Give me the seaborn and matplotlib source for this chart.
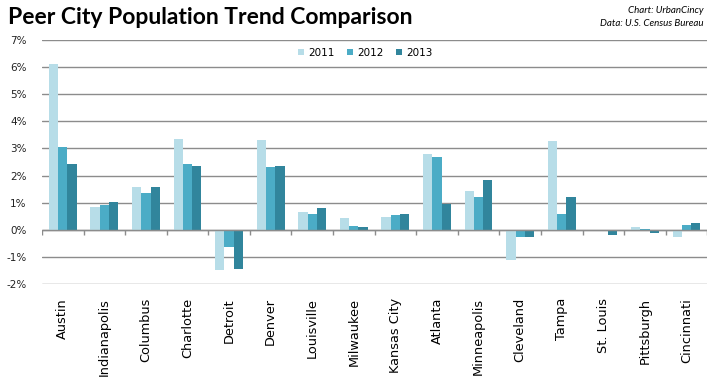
import pandas as pd
import matplotlib.pyplot as plt
import seaborn as sns
import numpy as np

# Dados (variação populacional anual, %)
cities = ['Austin', 'Indianapolis', 'Columbus', 'Charlotte', 'Detroit', 'Denver',
          'Louisville', 'Milwaukee', 'Kansas City', 'Atlanta', 'Minneapolis',
          'Cleveland', 'Tampa', 'St. Louis', 'Pittsburgh', 'Cincinnati']
years = ['2011', '2012', '2013']
v2011 = [6.11, 0.85, 1.56, 3.35, -1.47, 3.31, 0.66, 0.44, 0.48, 2.80, 1.44, -1.10, 3.28, 0.00, 0.11, -0.25]
v2012 = [3.06, 0.90, 1.36, 2.43, -0.65, 2.32, 0.59, 0.15, 0.53, 2.69, 1.21, -0.28, 0.59, 0.00, 0.04, 0.18]
v2013 = [2.43, 1.03, 1.56, 2.36, -1.44, 2.36, 0.81, 0.11, 0.59, 0.96, 1.84, -0.28, 1.21, -0.21, -0.10, 0.26]
colors = ['#b7dde8', '#4bacc6', '#31859c']

df = pd.DataFrame({'city': cities * 3,
                   'year': np.repeat(years, len(cities)),
                   'value': v2011 + v2012 + v2013})

sns.set_theme(style="white")
plt.rcParams['font.family'] = ['DejaVu Sans']
plt.rcParams['text.color'] = 'black'

fig = plt.figure(figsize=(7.2, 3.8), dpi=100)
ax = fig.add_axes([0.0583, 0.2526, 0.924, 0.6421])

sns.barplot(data=df, x='city', y='value', hue='year', palette=colors,
            width=0.67, saturation=1, linewidth=0, errorbar=None, ax=ax, zorder=3)

ax.set_ylim(-2, 7)
ax.set_xlim(-0.5, len(cities) - 0.5)
ax.set_yticks(range(-2, 8))
ax.set_yticklabels([f'{t}%' for t in range(-2, 8)], fontsize=7.5, color='#222222')
ax.yaxis.grid(True, color='#8c8c8c', linewidth=1)
ax.axhline(0, color='#8c8c8c', linewidth=1, zorder=4)
ax.vlines(np.arange(-0.5, len(cities)), -0.18, 0, color='#8c8c8c', linewidth=1, zorder=4)
for s in ax.spines.values():
    s.set_visible(False)
ax.tick_params(axis='y', length=0, pad=11)
ax.tick_params(axis='x', length=0, pad=10)
ax.set_xticks(range(len(cities)))
ax.set_xticklabels(cities, rotation=90, fontsize=9.3, color='black')
ax.set_xlabel('')
ax.set_ylabel('')

ax.legend(loc='upper center', bbox_to_anchor=(0.486, 0.985), ncol=3, frameon=False,
          fontsize=7.5, handlelength=0.6, handleheight=0.6, handletextpad=0.4,
          columnspacing=1.2, borderaxespad=0)

fig.text(0.011, 0.953, 'Peer City Population Trend Comparison', fontsize=16.5,
         fontweight='bold', family='Lato', va='center', ha='left', color='black')
fig.text(0.977, 0.972, 'Chart: UrbanCincy', fontsize=7, style='italic',
         family='Lato', ha='right', va='center', color='black')
fig.text(0.977, 0.938, 'Data: U.S. Census Bureau', fontsize=7, style='italic',
         family='Lato', ha='right', va='center', color='black')

plt.savefig('out.png', dpi=100)
